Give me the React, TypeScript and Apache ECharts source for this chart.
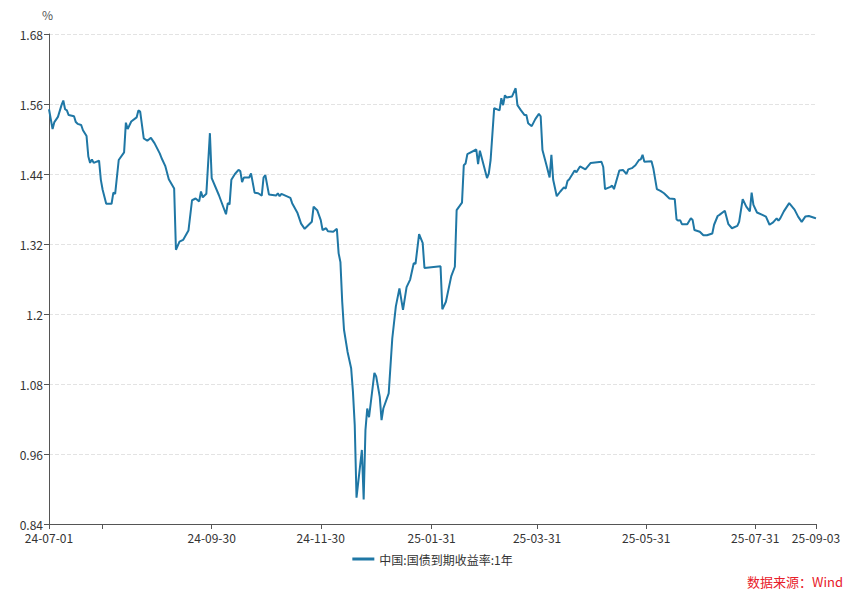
import React, { useEffect, useRef } from "react";
import * as echarts from "echarts";

// Observation dates (YY-MM-DD) and 1-year China government bond yield (%)
const dates: string[] = [
  "24-07-01","24-07-03","24-07-04","24-07-06","24-07-08","24-07-09","24-07-10","24-07-11","24-07-12","24-07-15",
  "24-07-16","24-07-17","24-07-19","24-07-20","24-07-22","24-07-23","24-07-24","24-07-25","24-07-26","24-07-29",
  "24-07-30","24-07-31","24-08-02","24-08-05","24-08-06","24-08-07","24-08-09","24-08-12","24-08-13","24-08-14",
  "24-08-16","24-08-19","24-08-20","24-08-21","24-08-23","24-08-25","24-08-27","24-08-29","24-09-01","24-09-02",
  "24-09-04","24-09-06","24-09-09","24-09-10","24-09-12","24-09-14","24-09-17","24-09-19","24-09-21","24-09-23",
  "24-09-24","24-09-25","24-09-27","24-09-29","24-09-30","24-10-04","24-10-08","24-10-09","24-10-10","24-10-11",
  "24-10-13","24-10-15","24-10-16","24-10-17","24-10-18","24-10-21","24-10-22","24-10-24","24-10-26","24-10-28",
  "24-10-29","24-10-30","24-11-01","24-11-05","24-11-06","24-11-07","24-11-08","24-11-13","24-11-14","24-11-17",
  "24-11-19","24-11-21","24-11-25","24-11-26","24-11-28","24-11-30","24-12-01","24-12-03","24-12-04","24-12-07",
  "24-12-09","24-12-10","24-12-11","24-12-12","24-12-13","24-12-15","24-12-17","24-12-18","24-12-19","24-12-20",
  "24-12-23","24-12-24","24-12-25","24-12-26","24-12-27","24-12-30","24-12-31","25-01-02","25-01-03","25-01-04",
  "25-01-07","25-01-09","25-01-11","25-01-13","25-01-15","25-01-17","25-01-19","25-01-21","25-01-22","25-01-24",
  "25-01-26","25-01-27","25-02-05","25-02-06","25-02-08","25-02-11","25-02-13","25-02-14","25-02-17","25-02-18",
  "25-02-19","25-02-20","25-02-25","25-02-26","25-02-27","25-03-03","25-03-04","25-03-05","25-03-07","25-03-10",
  "25-03-11","25-03-12","25-03-13","25-03-14","25-03-17","25-03-19","25-03-20","25-03-22","25-03-24","25-03-25",
  "25-03-26","25-03-28","25-03-30","25-04-01","25-04-02","25-04-03","25-04-05","25-04-07","25-04-08","25-04-09",
  "25-04-11","25-04-13","25-04-15","25-04-16","25-04-17","25-04-18","25-04-21","25-04-22","25-04-24","25-04-27",
  "25-04-30","25-05-06","25-05-07","25-05-08","25-05-11","25-05-12","25-05-13","25-05-16","25-05-18","25-05-20",
  "25-05-21","25-05-23","25-05-25","25-05-27","25-05-28","25-05-29","25-05-30","25-06-03","25-06-04","25-06-06",
  "25-06-08","25-06-10","25-06-12","25-06-13","25-06-16","25-06-17","25-06-18","25-06-19","25-06-20","25-06-23",
  "25-06-25","25-06-26","25-06-27","25-06-30","25-07-02","25-07-04","25-07-07","25-07-08","25-07-10","25-07-11",
  "25-07-14","25-07-16","25-07-18","25-07-21","25-07-22","25-07-24","25-07-26","25-07-28","25-07-29","25-07-30",
  "25-08-01","25-08-04","25-08-06","25-08-08","25-08-10","25-08-12","25-08-13","25-08-14","25-08-16","25-08-19",
  "25-08-22","25-08-24","25-08-26","25-08-28","25-08-30","25-09-02","25-09-03",
];

const yields: number[] = [
  1.551,1.517,1.529,1.538,1.558,1.566,1.551,1.549,1.541,1.539,
  1.529,1.526,1.524,1.515,1.505,1.470,1.459,1.465,1.459,1.463,
  1.430,1.413,1.389,1.389,1.408,1.406,1.464,1.477,1.528,1.517,
  1.530,1.537,1.549,1.547,1.501,1.497,1.502,1.493,1.475,1.467,
  1.454,1.431,1.415,1.310,1.324,1.327,1.343,1.395,1.398,1.393,
  1.410,1.400,1.406,1.510,1.433,1.404,1.371,1.390,1.388,1.430,
  1.440,1.447,1.445,1.426,1.434,1.434,1.441,1.408,1.407,1.403,
  1.434,1.438,1.405,1.403,1.407,1.402,1.406,1.399,1.390,1.373,
  1.355,1.346,1.358,1.384,1.378,1.361,1.344,1.347,1.342,1.341,
  1.346,1.304,1.289,1.221,1.173,1.135,1.107,1.067,1.010,0.885,
  0.967,0.882,1.001,1.038,1.023,1.099,1.093,1.058,1.018,1.038,
  1.064,1.158,1.213,1.244,1.207,1.246,1.259,1.287,1.286,1.337,
  1.322,1.279,1.282,1.208,1.221,1.265,1.281,1.378,1.391,1.455,
  1.458,1.474,1.482,1.457,1.480,1.433,1.441,1.464,1.553,1.549,
  1.570,1.558,1.575,1.571,1.573,1.587,1.558,1.549,1.541,1.541,
  1.527,1.522,1.534,1.543,1.539,1.481,1.458,1.434,1.473,1.430,
  1.402,1.410,1.417,1.415,1.428,1.431,1.446,1.443,1.453,1.448,
  1.459,1.461,1.452,1.414,1.418,1.420,1.414,1.446,1.447,1.440,
  1.448,1.450,1.455,1.464,1.465,1.473,1.461,1.462,1.450,1.414,
  1.411,1.407,1.401,1.398,1.397,1.362,1.360,1.361,1.354,1.354,
  1.364,1.361,1.344,1.341,1.335,1.335,1.338,1.353,1.368,1.370,
  1.377,1.354,1.347,1.351,1.358,1.397,1.384,1.376,1.408,1.387,
  1.374,1.370,1.367,1.353,1.357,1.364,1.360,1.364,1.376,1.390,
  1.379,1.367,1.358,1.367,1.368,1.365,1.364,
];

const tickDates: string[] = ["24-07-01","24-07-31","24-09-30","24-11-30","25-01-31","25-03-31","25-05-31","25-07-31","25-09-03"];
const labelDates: string[] = ["24-07-01","24-09-30","24-11-30","25-01-31","25-03-31","25-05-31","25-07-31","25-09-03"];

const seriesName = "中国:国债到期收益率:1年";
const sourceText = "数据来源：Wind";

function buildCalendar(start: string, end: string): string[] {
  const toUTC = (s: string) => {
    const [y, m, d] = s.split("-").map(Number);
    return Date.UTC(2000 + y, m - 1, d);
  };
  const out: string[] = [];
  const pad = (n: number) => (n < 10 ? "0" + n : "" + n);
  for (let t = toUTC(start); t <= toUTC(end); t += 86400000) {
    const dt = new Date(t);
    out.push(`${pad(dt.getUTCFullYear() % 100)}-${pad(dt.getUTCMonth() + 1)}-${pad(dt.getUTCDate())}`);
  }
  return out;
}

export default function App() {
  const ref = useRef<HTMLDivElement>(null);
  useEffect(() => {
    if (!ref.current) return;
    const chart = echarts.init(ref.current, undefined, { renderer: "svg" });
    const categories = buildCalendar(dates[0], dates[dates.length - 1]);
    const lookup: Record<string, number> = {};
    dates.forEach((d, i) => (lookup[d] = yields[i]));
    const seriesData = categories.map((c) => (c in lookup ? lookup[c] : null));
    const font = "'Noto Sans CJK SC', 'Noto Sans', sans-serif";

    chart.setOption({
      animation: false,
      textStyle: { fontFamily: font },
      grid: { left: 49, right: 49, top: 34, bottom: 75, containLabel: false },
      legend: {
        bottom: 29,
        left: "center",
        icon: "rect",
        itemWidth: 22,
        itemHeight: 3,
        itemGap: 10,
        textStyle: { color: "#333", fontSize: 12, fontFamily: font },
        data: [seriesName],
      },
      graphic: [
        {
          type: "text",
          right: 22,
          bottom: 11,
          style: { text: sourceText, fill: "#e8202a", fontSize: 13, fontFamily: font },
        },
      ],
      xAxis: {
        type: "category",
        data: categories,
        boundaryGap: false,
        axisLine: { show: true, lineStyle: { color: "#555", width: 1 } },
        axisTick: {
          show: true,
          length: 5,
          lineStyle: { color: "#555" },
          interval: (_i: number, v: string) => tickDates.includes(v),
        },
        axisLabel: {
          color: "#333",
          fontSize: 12,
          margin: 7,
          fontFamily: font,
          interval: (_i: number, v: string) => labelDates.includes(v),
        },
        splitLine: { show: false },
      },
      yAxis: {
        type: "value",
        min: 0.84,
        max: 1.68,
        interval: 0.12,
        name: "%",
        nameGap: 14,
        nameTextStyle: { color: "#555", fontSize: 12, align: "right", padding: [0, -4, 0, 0] },
        axisLine: { show: true, lineStyle: { color: "#555", width: 1 } },
        axisTick: { show: true, length: 5, lineStyle: { color: "#555" } },
        axisLabel: { color: "#333", fontSize: 12, margin: 6, fontFamily: font },
        splitLine: { show: true, lineStyle: { color: "#e3e3e3", type: "dashed" } },
      },
      series: [
        {
          name: seriesName,
          type: "line",
          data: seriesData,
          connectNulls: true,
          showSymbol: false,
          symbol: "none",
          lineStyle: { color: "#1f77a5", width: 2 },
          itemStyle: { color: "#1f77a5" },
        },
      ],
    });
    return () => chart.dispose();
  }, []);
  return (
    <div
      ref={ref}
      style={{ position: "fixed", left: 0, top: 0, width: 865, height: 599, background: "#fff" }}
    />
  );
}
